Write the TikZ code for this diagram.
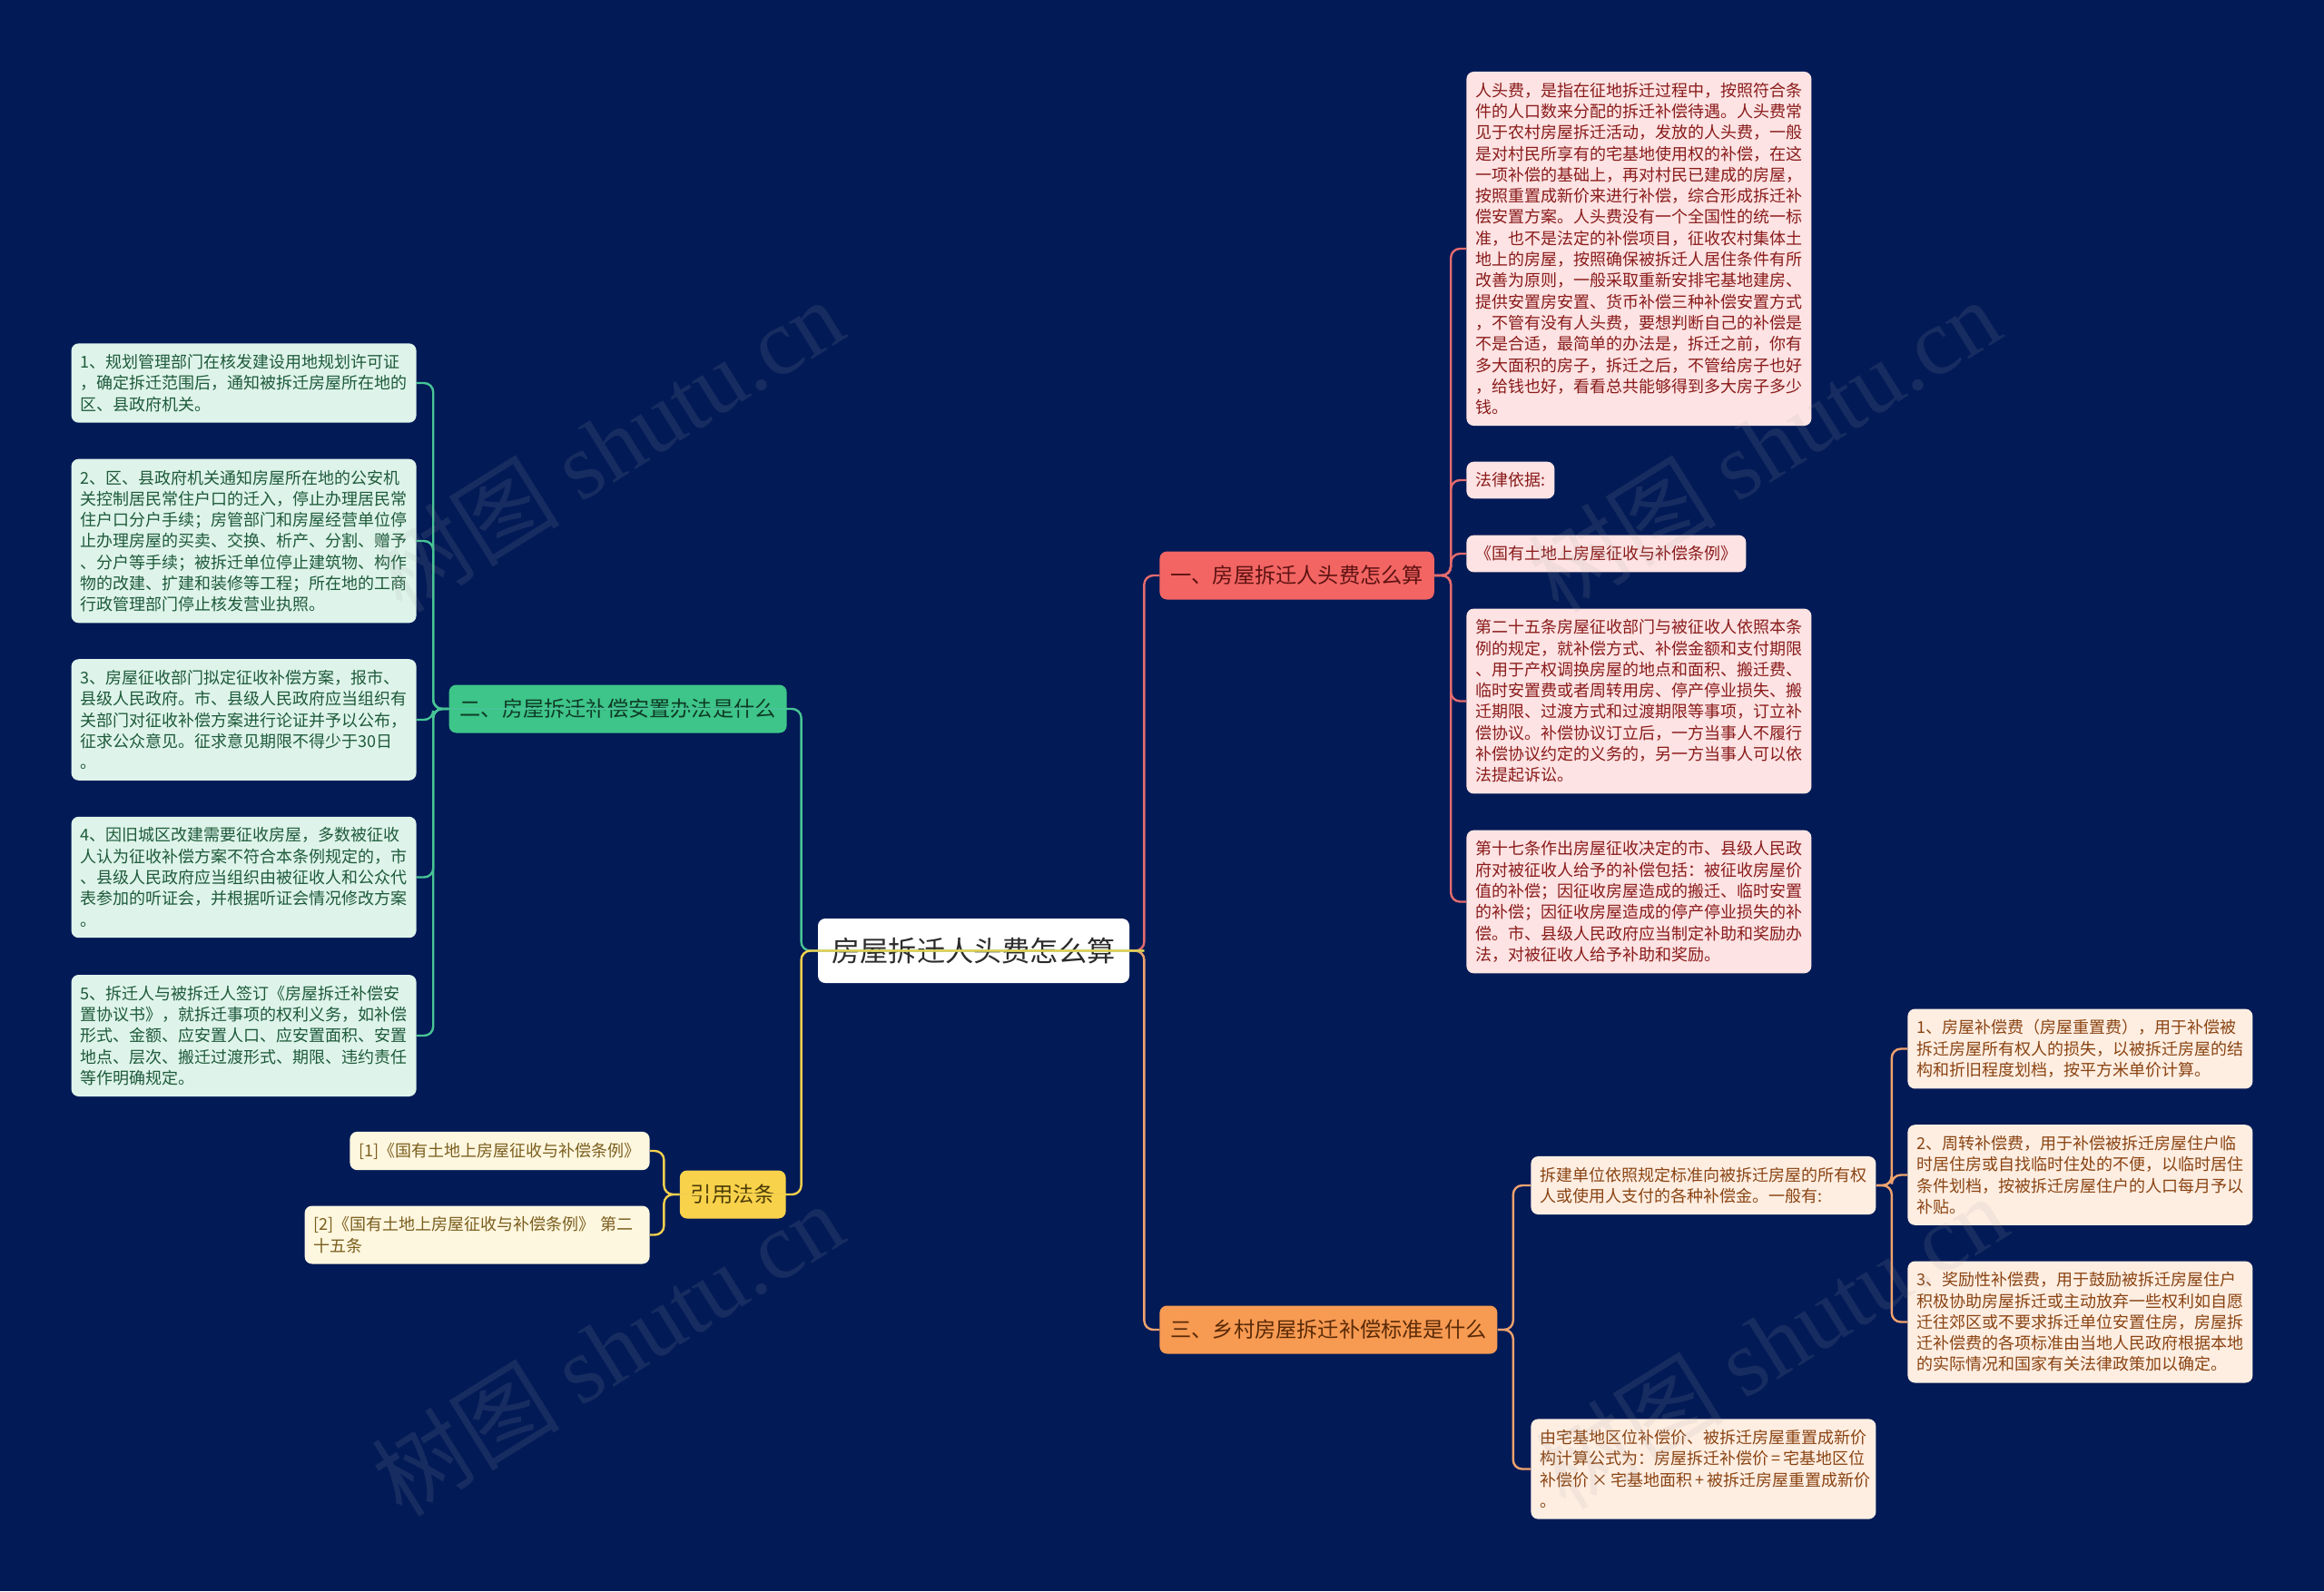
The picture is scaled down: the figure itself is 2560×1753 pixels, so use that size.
\documentclass[tikz,border=0pt]{standalone}
\usepackage{fontspec}
\setmainfont{Noto Sans CJK SC}
\newfontfamily\wmfont{Liberation Serif}
\definecolor{night}{HTML}{021A56}
\definecolor{rootink}{HTML}{2B2B2B}
\definecolor{redfill}{HTML}{F26563}
\definecolor{redink}{HTML}{5E1212}
\definecolor{redline}{HTML}{E46B6E}
\definecolor{pinkfill}{HTML}{FDE3E3}
\definecolor{pinkink}{HTML}{8A1B1B}
\definecolor{orangefill}{HTML}{F79A52}
\definecolor{orangeink}{HTML}{5A2A06}
\definecolor{orangeline}{HTML}{F0A36E}
\definecolor{peachfill}{HTML}{FEEEE2}
\definecolor{peachink}{HTML}{8A4413}
\definecolor{greenfill}{HTML}{3EC589}
\definecolor{greenink}{HTML}{0E3A26}
\definecolor{greenline}{HTML}{47C495}
\definecolor{mintfill}{HTML}{DEF4EA}
\definecolor{mintink}{HTML}{1E5A3A}
\definecolor{yellowfill}{HTML}{F9D24B}
\definecolor{yellowink}{HTML}{4A3A06}
\definecolor{yellowline}{HTML}{F3D04E}
\definecolor{creamfill}{HTML}{FEF7DF}
\definecolor{creamink}{HTML}{7A5E1E}

\begin{document}
\begin{tikzpicture}[x=0.5pt,y=-0.5pt,
  leaf/.style={rounded corners=4pt,inner xsep=5pt,inner ysep=6pt,align=left,
    font=\fontsize{9pt}{11.65pt}\selectfont},
  wideleaf/.style={leaf,text width=180pt},
  branch/.style={rounded corners=4pt,inner xsep=6pt,minimum height=26.5pt,
    font=\fontsize{11.6pt}{14pt}\selectfont},
  link/.style={line width=1.2pt,rounded corners=5pt},
  wmark/.style={rotate=32,text=gray!70,text opacity=.13,
    font=\fontsize{52pt}{60pt}\selectfont}]
  \fill[night] (0,0) rectangle (2560,1753);

  % root
  \node[fill=white,text=rootink,rounded corners=4pt,inner xsep=7.75pt,minimum height=35.5pt,
    font=\fontsize{15.6pt}{18pt}\selectfont] (root) at (1072.5,1047.5) {房屋拆迁人头费怎么算};

  % right side
  \node[branch,fill=redfill,text=redink,anchor=west] (fee) at (1277,634) {一、房屋拆迁人头费怎么算};
  \node[branch,fill=orangefill,text=orangeink,anchor=west] (rural) at (1277,1465) {三、乡村房屋拆迁补偿标准是什么};

  \begin{scope}[every node/.append style={fill=pinkfill,text=pinkink,anchor=west}]
    \node[wideleaf] (fee1) at (1615,274) {人头费，是指在征地拆迁过程中，按照符合条\\件的人口数来分配的拆迁补偿待遇。人头费常\\见于农村房屋拆迁活动，发放的人头费，一般\\是对村民所享有的宅基地使用权的补偿，在这\\一项补偿的基础上，再对村民已建成的房屋，\\按照重置成新价来进行补偿，综合形成拆迁补\\偿安置方案。人头费没有一个全国性的统一标\\准，也不是法定的补偿项目，征收农村集体土\\地上的房屋，按照确保被拆迁人居住条件有所\\改善为原则，一般采取重新安排宅基地建房、\\提供安置房安置、货币补偿三种补偿安置方式\\，不管有没有人头费，要想判断自己的补偿是\\不是合适，最简单的办法是，拆迁之前，你有\\多大面积的房子，拆迁之后，不管给房子也好\\，给钱也好，看看总共能够得到多大房子多少\\钱。};
    \node[leaf] (fee2) at (1615,529) {法律依据:};
    \node[leaf] (fee3) at (1615,610) {《国有土地上房屋征收与补偿条例》};
    \node[wideleaf] (fee4) at (1615,772.5) {第二十五条房屋征收部门与被征收人依照本条\\例的规定，就补偿方式、补偿金额和支付期限\\、用于产权调换房屋的地点和面积、搬迁费、\\临时安置费或者周转用房、停产停业损失、搬\\迁期限、过渡方式和过渡期限等事项，订立补\\偿协议。补偿协议订立后，一方当事人不履行\\补偿协议约定的义务的，另一方当事人可以依\\法提起诉讼。};
    \node[wideleaf] (fee5) at (1615,993.5) {第十七条作出房屋征收决定的市、县级人民政\\府对被征收人给予的补偿包括：被征收房屋价\\值的补偿；因征收房屋造成的搬迁、临时安置\\的补偿；因征收房屋造成的停产停业损失的补\\偿。市、县级人民政府应当制定补助和奖励办\\法，对被征收人给予补助和奖励。};
  \end{scope}

  \begin{scope}[every node/.append style={fill=peachfill,text=peachink,anchor=west}]
    \node[wideleaf] (rural1) at (1686,1306) {拆建单位依照规定标准向被拆迁房屋的所有权\\人或使用人支付的各种补偿金。一般有:};
    \node[wideleaf] (rural2) at (1686,1618.5) {由宅基地区位补偿价、被拆迁房屋重置成新价\\构计算公式为：房屋拆迁补偿价\,=\,宅基地区位\\补偿价\,×\,宅基地面积\,+\,被拆迁房屋重置成新价\\。};
    \node[wideleaf] (pay1) at (2101,1155.5) {1、房屋补偿费（房屋重置费），用于补偿被\\拆迁房屋所有权人的损失，以被拆迁房屋的结\\构和折旧程度划档，按平方米单价计算。};
    \node[wideleaf] (pay2) at (2101,1294.5) {2、周转补偿费，用于补偿被拆迁房屋住户临\\时居住房或自找临时住处的不便，以临时居住\\条件划档，按被拆迁房屋住户的人口每月予以\\补贴。};
    \node[wideleaf] (pay3) at (2101,1456.5) {3、奖励性补偿费，用于鼓励被拆迁房屋住户\\积极协助房屋拆迁或主动放弃一些权利如自愿\\迁往郊区或不要求拆迁单位安置住房，房屋拆\\迁补偿费的各项标准由当地人民政府根据本地\\的实际情况和国家有关法律政策加以确定。};
  \end{scope}

  % left side
  \node[branch,fill=greenfill,text=greenink,anchor=east] (plan) at (867,781) {二、房屋拆迁补偿安置办法是什么};
  \node[branch,fill=yellowfill,text=yellowink,anchor=east] (law) at (866,1316) {引用法条};

  \begin{scope}[every node/.append style={fill=mintfill,text=mintink,anchor=east}]
    \node[wideleaf] (plan1) at (459,422) {1、规划管理部门在核发建设用地规划许可证\\，确定拆迁范围后，通知被拆迁房屋所在地的\\区、县政府机关。};
    \node[wideleaf] (plan2) at (459,596) {2、区、县政府机关通知房屋所在地的公安机\\关控制居民常住户口的迁入，停止办理居民常\\住户口分户手续；房管部门和房屋经营单位停\\止办理房屋的买卖、交换、析产、分割、赠予\\、分户等手续；被拆迁单位停止建筑物、构作\\物的改建、扩建和装修等工程；所在地的工商\\行政管理部门停止核发营业执照。};
    \node[wideleaf] (plan3) at (459,793) {3、房屋征收部门拟定征收补偿方案，报市、\\县级人民政府。市、县级人民政府应当组织有\\关部门对征收补偿方案进行论证并予以公布，\\征求公众意见。征求意见期限不得少于30日\\。};
    \node[wideleaf] (plan4) at (459,966.5) {4、因旧城区改建需要征收房屋，多数被征收\\人认为征收补偿方案不符合本条例规定的，市\\、县级人民政府应当组织由被征收人和公众代\\表参加的听证会，并根据听证会情况修改方案\\。};
    \node[wideleaf] (plan5) at (459,1141) {5、拆迁人与被拆迁人签订《房屋拆迁补偿安\\置协议书》，就拆迁事项的权利义务，如补偿\\形式、金额、应安置人口、应安置面积、安置\\地点、层次、搬迁过渡形式、期限、违约责任\\等作明确规定。};
  \end{scope}

  \begin{scope}[every node/.append style={fill=creamfill,text=creamink,anchor=east}]
    \node[leaf] (law1) at (716,1268) {[1]《国有土地上房屋征收与补偿条例》};
    \node[wideleaf] (law2) at (716,1360.5) {[2]《国有土地上房屋征收与补偿条例》~第二\\十五条};
  \end{scope}

  % connectors
  \draw[link,redline] (root.east) -- ++(16,0) |- (fee.west);
  \draw[link,orangeline] (root.east) -- ++(16,0) |- (rural.west);
  \foreach \c in {fee1,fee2,fee3,fee4,fee5}
    \draw[link,redline] (fee.east) -- ++(18,0) |- (\c.west);
  \foreach \c in {rural1,rural2}
    \draw[link,orangeline] (rural.east) -- ++(17,0) |- (\c.west);
  \foreach \c in {pay1,pay2,pay3}
    \draw[link,orangeline] (rural1.east) -- ++(17,0) |- (\c.west);
  \coordinate (hub) at ([xshift=-9pt]root.west);
  \draw[link,greenline] ([xshift=8pt]root.east) -- (hub) |- (plan.west);
  \draw[link,yellowline] ([xshift=8pt]root.east) -- (hub) |- (law.west);
  \foreach \c in {plan1,plan2,plan3,plan4,plan5}
    \draw[link,greenline] (plan.west) -- ++(-17,0) |- (\c.east);
  \foreach \c in {law1,law2}
    \draw[link,yellowline] (law.west) -- ++(-17,0) |- (\c.east);

  % watermarks
  \foreach \p in {(669,490),(1943,490),(669,1486),(1951,1478)}
    \node[wmark] at \p {树图 {\wmfont shutu.cn}};
\end{tikzpicture}
\end{document}
